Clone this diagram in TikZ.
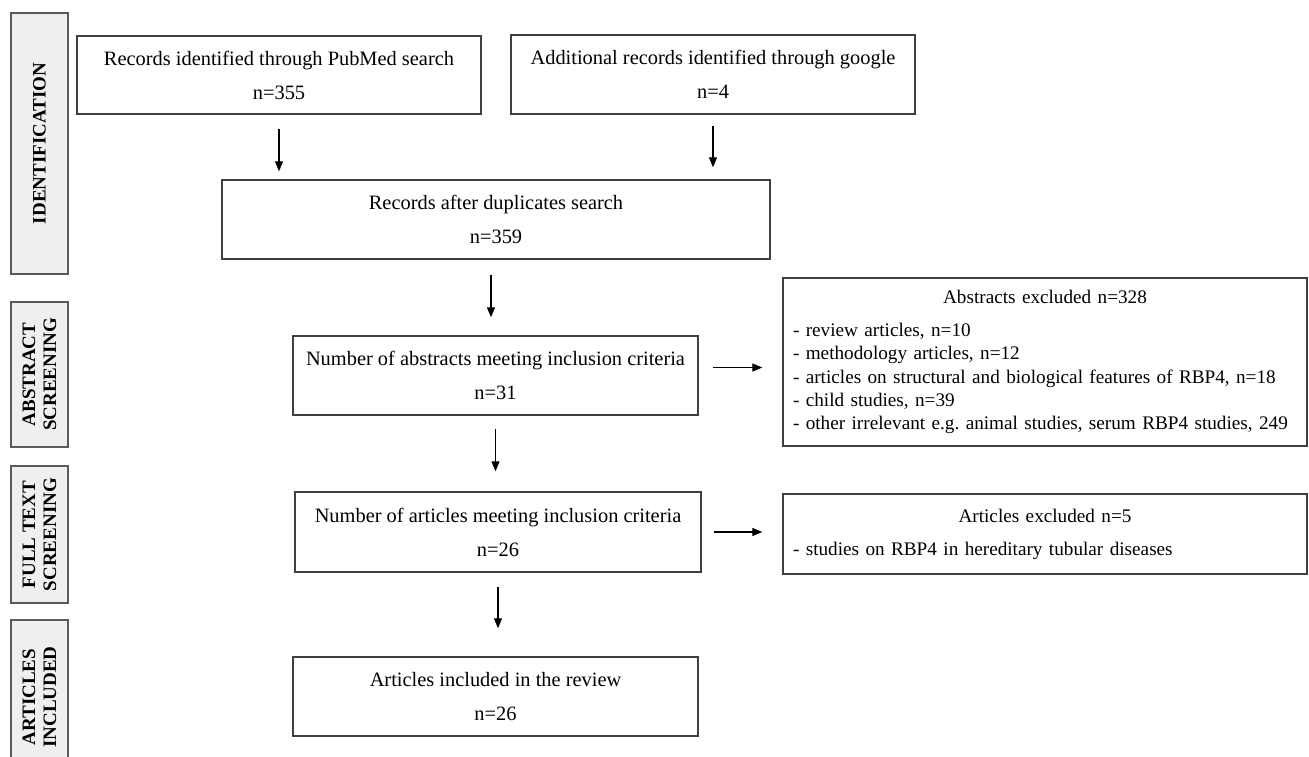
\documentclass[tikz,border=0pt]{standalone}
\usepackage{fontspec}
\setmainfont{Liberation Serif}
\usetikzlibrary{arrows.meta}
\definecolor{boxline}{HTML}{404040}
\definecolor{stagefill}{HTML}{EFEFEF}
\definecolor{stageline}{HTML}{5A5A5A}
\hyphenpenalty=10000
\frenchspacing
\newcommand{\stagefont}{\fontsize{9.5}{10.5}\bfseries\selectfont}
\tikzset{flowbox/.style={draw=boxline,line width=0.7pt,align=center,inner sep=0pt,font=\fontsize{10.2}{11.5}\selectfont}}
\tikzset{exbox/.style={flowbox,align=left,text width=252pt,minimum width=262pt,font=\fontsize{9.6}{11.6}\selectfont}}
\tikzset{stagebox/.style={draw=stageline,fill=stagefill,line width=0.7pt,rotate=90,align=center,inner sep=0pt,font=\stagefont}}
\tikzset{flowarrow/.style={black,line width=0.6pt,-{Triangle[length=5pt,width=4pt]}}}

\begin{document}
\begin{tikzpicture}[x=0.5pt,y=-0.5pt]
	\useasboundingbox (0,0) rectangle (1309,756);

	% stages on the left
	\node[stagebox,minimum width=130.5pt,minimum height=28.5pt] (idlab) at (39.5,143.5) {IDENTIFICATION};
	\node[stagebox,minimum width=72.5pt,minimum height=28.5pt] (abslab) at (39.5,374.5) {ABSTRACT\\SCREENING};
	\node[stagebox,minimum width=68.5pt,minimum height=28.5pt] (fulllab) at (39.5,534.5) {FULL TEXT\\SCREENING};
	\node[stagebox,minimum width=77pt,minimum height=28.5pt] (inclab) at (39.5,697) {ARTICLES\\INCLUDED};

	% flow boxes
	\node[flowbox,minimum width=202pt,minimum height=39pt] (pubmed) at (279,75) {Records identified through PubMed search\\[5.5pt] n=355};
	\node[flowbox,minimum width=202pt,minimum height=39.5pt] (google) at (713,74.5) {Additional records identified through google\\[5.5pt] n=4};
	\node[flowbox,minimum width=274pt,minimum height=39.5pt] (dup) at (496,219.5) {Records after duplicates search\\[5.5pt] n=359};
	\node[flowbox,minimum width=202.5pt,minimum height=39.5pt] (abs) at (495.5,375.5) {Number of abstracts meeting inclusion criteria\\[5.5pt] n=31};
	\node[flowbox,minimum width=203pt,minimum height=40pt] (full) at (498,532) {Number of articles meeting inclusion criteria\\[5.5pt] n=26};
	\node[flowbox,minimum width=202.5pt,minimum height=39.5pt] (incl) at (495.5,696.5) {Articles included in the review\\[5.5pt] n=26};

	% excluded
	\node[exbox,minimum height=84pt] (absex) at (1045,362) {%
		{\centering Abstracts excluded n=328\par}\vspace{5pt}%
		- review articles, n=10\\
		- methodology articles, n=12\\
		- articles on structural and biological features of RBP4, n=18\\
		- child studies, n=39\\
		- other irrelevant e.g. animal studies, serum RBP4 studies, 249};
	\node[exbox,minimum height=40pt] (fullex) at (1045,534) {%
		{\centering Articles excluded n=5\par}\vspace{5pt}%
		- studies on RBP4 in hereditary tubular diseases};

	% arrows
	\draw[flowarrow,shorten <=7pt,shorten >=4pt] (pubmed.south) -- (pubmed.south |- dup.north);
	\draw[flowarrow,shorten <=5.5pt,shorten >=6pt] (google.south) -- (google.south |- dup.north);
	\draw[flowarrow,shorten <=7.5pt,shorten >=9pt] ([xshift=-2.5pt]dup.south) -- ([xshift=-2.5pt]dup.south |- abs.north);
	\draw[flowarrow,shorten <=6.5pt,shorten >=10pt] (abs.south) -- (abs.south |- full.north);
	\draw[flowarrow,shorten <=7pt,shorten >=14pt] (full.south) -- (full.south |- incl.north);
	\draw[flowarrow,shorten <=7pt,shorten >=10pt] ([yshift=4pt]abs.east) -- ([yshift=4pt]abs.east -| absex.west);
	\draw[flowarrow,shorten <=6pt,shorten >=10pt] (full.east) -- (full.east -| fullex.west);

\end{tikzpicture}
\end{document}
